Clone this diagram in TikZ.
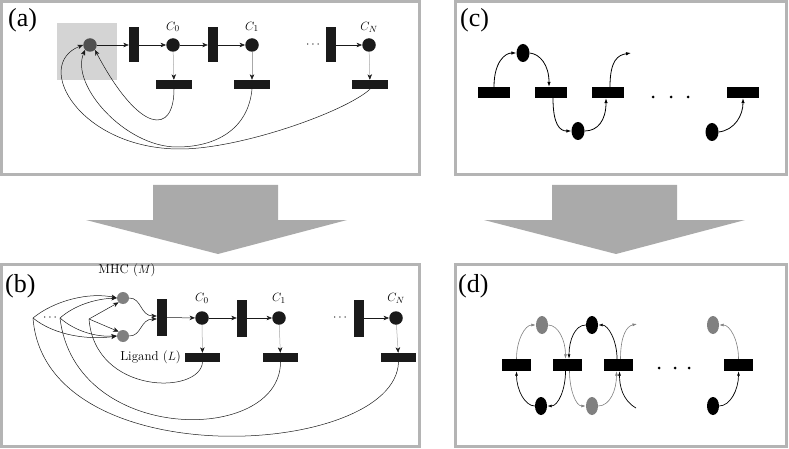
\documentclass[tikz,border=0pt]{standalone}
\usepackage{fontspec}
\newfontfamily\tnr{Liberation Serif}
\usetikzlibrary{arrows.meta,shapes.geometric,calc}
\definecolor{framecol}{HTML}{B4B4B4}
\definecolor{bigarrow}{HTML}{AAAAAA}
\definecolor{sqcol}{HTML}{D4D4D4}
\definecolor{dgray}{HTML}{505050}
\definecolor{mgray}{HTML}{808080}
\definecolor{lgray}{HTML}{A8A8A8}
\definecolor{barcol}{HTML}{1A1A1A}
\begin{document}
\begin{tikzpicture}[x=1pt,y=-1pt,
  frame/.style={draw=framecol,line width=3pt},
  vbar/.style={rectangle,fill=barcol,minimum width=10pt,minimum height=35pt,inner sep=0pt},
  hbar/.style={rectangle,fill=barcol,minimum width=36pt,minimum height=9pt,inner sep=0pt},
  place/.style={circle,fill=barcol,minimum size=13.5pt,inner sep=0pt},
  plab/.style={font=\tnr\fontsize{26}{28}\selectfont,anchor=base west,inner sep=0pt},
  clab/.style={font=\fontsize{13}{15}\selectfont,inner sep=0pt},
  arr/.style={-{Stealth[length=5.5pt,width=4.5pt,inset=1.6pt,color=barcol]},line width=0.5pt,draw=barcol},
  garr/.style={arr,draw=lgray},
  cbar/.style={rectangle,fill=black,minimum width=32pt,minimum height=11pt,inner sep=0pt},
  dbar/.style={rectangle,fill=black,minimum width=29pt,minimum height=12pt,inner sep=0pt},
  cell/.style={ellipse,fill=black,minimum width=13pt,minimum height=18pt,inner sep=0pt},
  dell/.style={ellipse,fill=black,minimum width=12pt,minimum height=18pt,inner sep=0pt},
  carr/.style={-{Latex[length=5pt,width=3.5pt]},line width=0.8pt},
  dblk/.style={-{Latex[length=4.5pt,width=3pt]},line width=0.7pt,draw=black},
  dgry/.style={-{Latex[length=4.5pt,width=3pt]},line width=0.6pt,draw=mgray},
  bigarr/.style={fill=bigarrow}
]
\useasboundingbox (0,0) rectangle (789,449);
% frames
\draw[frame] (1.5,1.5) rectangle (419,175);
\draw[frame] (455,1.5) rectangle (786,175);
\draw[frame] (1.5,264.5) rectangle (419,446.5);
\draw[frame] (455,264.5) rectangle (786,446.5);
% big arrows
\fill[bigarr] (153,185) -- (278,185) -- (278,220) -- (347,220) -- (218,254) -- (86,220) -- (153,220) -- cycle;
\fill[bigarr] (552,185) -- (677,185) -- (677,220) -- (745,220) -- (616,254) -- (484,220) -- (552,220) -- cycle;
% labels
\node[plab] (la) at (8,27) {(a)};
\node[plab] (lb) at (5,292) {(b)};
\node[plab] (lc) at (460,27) {(c)};
\node[plab] (ld) at (458,292) {(d)};

% ---------------- panel (a)
\fill[sqcol] (57,23) rectangle (117,80);
\node[place,fill=dgray] (A) at (90,45) {};
\node[vbar] (va1) at (134,45) {};
\node[place] (c0) at (173,45) {};
\node[vbar] (va2) at (213,45) {};
\node[place] (c1) at (252,45) {};
\node[clab] (dotsa) at (313,45) {$\cdots$};
\node[vbar] (va3) at (331,45) {};
\node[place] (cn) at (369,45) {};
\node[hbar] (ha0) at (174,84.5) {};
\node[hbar] (ha1) at (252,84.5) {};
\node[hbar] (ha2) at (370,84.5) {};
\node[clab] (lc0) at (173,27) {$C_0$};
\node[clab] (lc1) at (252,27) {$C_1$};
\node[clab] (lcn) at (369,27) {$C_N$};
\draw[arr] (A) -- (va1);
\draw[arr] (va1) -- (c0);
\draw[arr] (c0) -- (va2);
\draw[arr] (va2) -- (c1);
\draw[arr] (va3) -- (cn);
\draw[garr] (c0) -- (ha0);
\draw[garr] (c1) -- (ha1);
\draw[garr] (cn) -- (ha2);
\draw[arr] (ha0.south) .. controls (174,135) and (140,135) .. (A.south east);
\draw[arr] (ha1.south) .. controls (248,130) and (215,147) .. (177,147) .. controls (125,147) and (70,85) .. (A.south west);
\draw[arr] (ha2.south) .. controls (345,112) and (240,149) .. (180,149) .. controls (80,149) and (32,65) .. (A.west);

% ---------------- panel (b)
\node[clab] (lm) at (127,270) {MHC ($M$)};
\node[place,fill=mgray,minimum size=12pt] (M) at (123,298) {};
\node[place,fill=mgray,minimum size=12pt] (L) at (123,336) {};
\node[vbar,minimum height=37pt] (vb1) at (162,317.5) {};
\node[place] (d0) at (202,318) {};
\node[vbar,minimum height=37pt] (vb2) at (242,318) {};
\node[place] (d1) at (279,318) {};
\node[clab] (dotsb) at (340,318) {$\cdots$};
\node[vbar,minimum height=37pt] (vb3) at (358.5,318) {};
\node[place] (dn) at (396,318) {};
\node[hbar,minimum width=35pt] (hb0) at (202.5,357.5) {};
\node[hbar,minimum width=35pt] (hb1) at (280.5,357.5) {};
\node[hbar,minimum width=35pt] (hb2) at (398.5,357.5) {};
\node[clab] (ld0) at (202,298) {$C_0$};
\node[clab] (ld1) at (279,298) {$C_1$};
\node[clab] (ldn) at (396,298) {$C_N$};
\node[clab,anchor=east] (ll) at (181,357) {Ligand ($L$)};
\node[clab] (dotsc) at (50,318) {$\cdots$};
\coordinate (P1) at (33,318);
\coordinate (P2) at (60,318);
\coordinate (P3) at (89,319);
\draw[arr] (vb1) -- (d0);
\draw[arr] (d0) -- (vb2);
\draw[arr] (vb2) -- (d1);
\draw[arr] (vb3) -- (dn);
\draw[garr] (d0) -- (hb0);
\draw[garr] (d1) -- (hb1);
\draw[garr] (dn) -- (hb2);
\draw[arr] (M.east) .. controls (142,298) and (140,316) .. ($(vb1.west)+(0,-1.5)$);
\draw[arr] (L.east) .. controls (142,336) and (140,319) .. ($(vb1.west)+(0,1.5)$);
\draw[arr] (P1) .. controls (55,300) and (90,292) .. (M.west);
\draw[arr] (P1) .. controls (55,336) and (90,340) .. (L.west);
\draw[arr] (P2) .. controls (75,305) and (95,299) .. (M.west);
\draw[arr] (P2) .. controls (75,331) and (95,337) .. (L.west);
\draw[arr] (P3) -- (M.south west);
\draw[arr] (P3) -- (L.north west);
\draw[line width=0.5pt,barcol] (hb0.south) .. controls (200,395) and (95,395) .. (P3);
\draw[line width=0.5pt,barcol] (hb1.south) .. controls (280,445) and (75,445) .. (P2);
\draw[line width=0.5pt,barcol] (hb2.south) .. controls (395,458) and (45,478) .. (P1);

% ---------------- panel (c)
\node[cbar] (cb1) at (494,92.5) {};
\node[cbar] (cb2) at (551,92.5) {};
\node[cbar] (cb3) at (608,92.5) {};
\node[cbar] (cb4) at (743,92.5) {};
\node[cell] (ce1) at (523,53) {};
\node[cell] (ce2) at (578,131) {};
\node[cell] (ce3) at (712,132) {};
\fill (653,97) circle (1.5);
\fill (671,97) circle (1.5);
\fill (688,97) circle (1.5);
\coordinate (cfe) at (631,53);
\draw[carr] (cb1.north) .. controls (494,62) and (505,53) .. (ce1.west);
\draw[carr] (ce1.east) .. controls (540,54) and (549,65) .. ($(cb2.north)+(-2,0)$);
\draw[carr] ($(cb2.south)+(2,0)$) .. controls (553,125) and (560,131) .. (ce2.west);
\draw[carr] (ce2.east) .. controls (598,131) and (606,120) .. ($(cb3.south)+(-2,0)$);
\draw[carr] ($(cb3.north)+(2,0)$) .. controls (610,60) and (618,55) .. (cfe);
\draw[carr] (ce3.east) .. controls (735,130) and (743,115) .. (cb4.south);

% ---------------- panel (d)
\node[dbar] (db1) at (516.5,365) {};
\node[dbar] (db2) at (567.5,365) {};
\node[dbar] (db3) at (618.5,365) {};
\node[dbar] (db4) at (738.5,365) {};
\node[dell,fill=mgray] (t1) at (542,325) {};
\node[dell] (t2) at (592,325) {};
\node[dell,fill=mgray] (t4) at (713,325) {};
\node[dell] (u1) at (541,406) {};
\node[dell,fill=mgray] (u2) at (592,406) {};
\node[dell] (u4) at (713,406) {};
\fill (659,368) circle (1.5);
\fill (675,368) circle (1.5);
\fill (689,368) circle (1.5);
\coordinate (dfg) at (637,324);
\coordinate (dfb) at (636,408);
\draw[dgry] (db1.north) .. controls (516.5,340) and (525,325) .. (t1.west);
\draw[dgry] (t1.east) .. controls (558,325) and (565.5,340) .. ($(db2.north)+(-2,0)$);
\draw[dblk] (u1.west) .. controls (525,406) and (516.5,390) .. (db1.south);
\draw[dblk] ($(db2.south)+(-2,0)$) .. controls (565.5,390) and (558,406) .. (u1.east);
\draw[dblk] (t2.west) .. controls (575,325) and (569,340) .. ($(db2.north)+(1.5,0)$);
\draw[dblk] ($(db3.north)+(-1.5,0)$) .. controls (617,340) and (608,325) .. (t2.east);
\draw[dgry] ($(db2.south)+(2,0)$) .. controls (569.5,390) and (576,406) .. (u2.west);
\draw[dgry] (u2.east) .. controls (610,406) and (616.5,390) .. ($(db3.south)+(-2,0)$);
\draw[dgry] ($(db3.north)+(2,0)$) .. controls (620.5,335) and (627,326) .. (dfg);
\draw[dblk] (dfb) .. controls (622,400) and (619.5,385) .. ($(db3.south)+(1,0)$);
\draw[dgry] (db4.north) .. controls (738.5,340) and (730,325) .. (t4.east);
\draw[dblk] (u4.east) .. controls (730,406) and (738.5,390) .. (db4.south);
\end{tikzpicture}
\end{document}
